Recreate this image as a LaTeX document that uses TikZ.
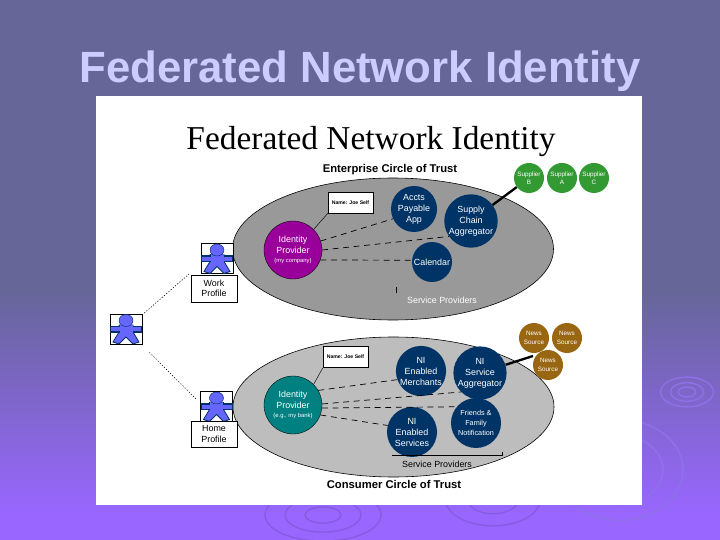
\documentclass[tikz,border=0pt]{standalone}
\usepackage{fontspec}
\setmainfont{Liberation Sans}
\newfontfamily\serifname{Liberation Serif}
\usepackage{tikz}
\usetikzlibrary{positioning}
\definecolor{slidetop}{RGB}{102,102,153}
\definecolor{slidebot}{RGB}{153,102,255}
\definecolor{ringup}{RGB}{142,112,232}
\definecolor{ringdn}{RGB}{135,92,225}
\definecolor{headcol}{RGB}{204,204,255}
\definecolor{navy}{RGB}{0,51,102}
\definecolor{plum}{RGB}{153,0,153}
\definecolor{teal2}{RGB}{0,128,128}
\definecolor{leaf}{RGB}{51,153,51}
\definecolor{ochre}{RGB}{153,102,17}
\definecolor{figcol}{RGB}{102,102,255}
\tikzset{
  svc/.style={circle,fill=navy,text=white,inner sep=0pt,minimum size=#1*0.03cm,align=center,font=\fontsize{7.6}{9.4}\selectfont},
  idp/.style={circle,fill=#1,draw=black,line width=0.3pt,text=white,inner sep=0pt,minimum size=1.74cm,align=center,font=\fontsize{7.6}{9.4}\selectfont},
  small/.style={circle,fill=#1,text=white,inner sep=0pt,minimum size=0.9cm,align=center,font=\fontsize{5.4}{7.2}\selectfont},
  namebox/.style={draw=black,fill=white,inner sep=0pt,minimum width=1.35cm,minimum height=0.64cm,font=\bfseries\fontsize{4.4}{5}\selectfont},
  profile/.style={draw=black,fill=white,inner sep=0pt,minimum width=1.38cm,minimum height=0.8cm,align=center,font=\fontsize{7.6}{9}\selectfont},
  personbox/.style={draw=black,fill=white,line width=0.3pt,inner sep=0pt,minimum width=0.95cm,minimum height=0.9cm},
  dashln/.style={black,line width=0.6pt,dash pattern=on 5pt off 4pt},
  dotln/.style={black,line width=0.5pt,dash pattern=on 1pt off 1.5pt},
  personfig/.pic={
    \draw[navy,line width=0.7pt,fill=figcol] (-7,-4) -- (-7,3) -- (-13,13) -- (-7,15) -- (0,8) -- (7,15) -- (13,13) -- (7,3) -- (7,-4) -- cycle;
    \fill[navy] (-16,-3) rectangle (16,4);
    \fill[figcol] (-15,-1.5) rectangle (15,2.5);
    \fill[figcol] (-6.5,-4) rectangle (6.5,5);
    \draw[navy,line width=0.4pt,fill=figcol] (0,-8.5) ellipse (7 and 6);
  }
}
\begin{document}
\begin{tikzpicture}[x=0.03cm,y=-0.03cm]
    \useasboundingbox (0,0) rectangle (720,540);
    \fill[slidetop] (0,0) rectangle (720,290.5);
    \shade[top color=slidetop,bottom color=slidebot] (0,290) rectangle (720,515);
    \fill[slidebot] (0,514.5) rectangle (720,540);

    % rings behind the panel
    \foreach \r in {8,15,24} \draw[ringup,line width=1.2pt] (687,392) ellipse (\r*1.1 and \r*0.62);
    \foreach \r in {43,63} \draw[ringup,line width=1.4pt] (620,470) ellipse (\r*1 and \r*0.8);
    \foreach \r in {18,38,58} \draw[ringdn,line width=1.2pt] (323,515) ellipse (\r*1 and \r*0.45);
    \foreach \r in {25,47} \draw[ringdn,line width=1.2pt] (493,500) ellipse (\r*1 and \r*0.55);

    % slide title and panel
    \node[text=headcol,font=\bfseries\fontsize{37.3}{42}\selectfont] (slidetitle) at (360,71.5) {Federated Network Identity};
    \fill[white] (96,96) rectangle (642,505);
    \node[font=\serifname\fontsize{28.5}{32}\selectfont] (paneltitle) at (371,142) {Federated Network Identity};

    % two circles of trust
    \draw[line width=0.5pt,fill=black!40] (393,249) ellipse (160.5 and 71);
    \draw[line width=0.5pt,fill=black!26] (393.5,407) ellipse (160.5 and 70);
    \node[font=\bfseries\fontsize{9.6}{11}\selectfont] (enttitle) at (390,170) {Enterprise Circle of Trust};
    \node[font=\bfseries\fontsize{9.6}{11}\selectfont] (contitle) at (394,484) {Consumer Circle of Trust};

    % enterprise side
    \node[idp=plum] (idwork) at (293,250) {Identity\\Provider\\[-2pt]{\fontsize{5}{6}\selectfont (my company)}};
    \node[namebox] (namework) at (350.5,202.5) {Name: Joe Self};
    \node[svc=46] (accts) at (414,209) {Accts\\Payable\\App};
    \node[svc=50] (supply) at (471,221) {Supply\\Chain\\Aggregator};
    \node[svc=40] (calendar) at (432,262) {Calendar};
    \node[text=white,font=\fontsize{7.6}{9}\selectfont] (spwork) at (442,300) {Service Providers};
    \node[small=leaf] (supb) at (529,178) {Supplier\\B};
    \node[small=leaf] (supa) at (562,178) {Supplier\\A};
    \node[small=leaf] (supc) at (594,178) {Supplier\\C};
    \path (396,287) coordinate (tick1) (396,293) coordinate (tick2);
    \draw[line width=0.6pt] (tick1) -- (tick2);
    \draw[line width=0.4pt] (idwork.45) -- (namework.south west);
    \draw[dashln] (idwork.18) -- (accts.205);
    \draw[dashln] (idwork.0) -- (supply.215);
    \draw[dashln] (idwork.-20) -- (calendar.175);
    \draw[line width=2pt] (supply) -- (supb);

    % consumer side
    \node[idp=teal2] (idhome) at (293,405) {Identity\\Provider\\[-2pt]{\fontsize{5}{6}\selectfont (e.g., my bank)}};
    \node[namebox] (namehome) at (345.5,357) {Name: Joe Self};
    \node[svc=50] (merch) at (421,371) {NI\\Enabled\\Merchants};
    \node[svc=50] (aggr) at (480,373) {NI\\Service\\Aggregator};
    \node[svc=50] (enabled) at (412,432) {NI\\Enabled\\Services};
    \node[svc=50,font=\fontsize{6.2}{8.6}\selectfont] (friends) at (476,423) {Friends \&\\Family\\Notification};
    \node[font=\fontsize{7.6}{9}\selectfont] (sphome) at (437,464) {Service Providers};
    \node[small=ochre] (newsa) at (534,338) {News\\Source};
    \node[small=ochre] (newsb) at (567,338) {News\\Source};
    \node[small=ochre] (newsc) at (548,365) {News\\Source};
    \path (392,455) coordinate (brk1) (502,455) coordinate (brk2) (502,452) coordinate (brk3)
      (533,356) coordinate (newsend);
    \draw[line width=0.5pt] (brk1) -- (brk2) -- (brk3);
    \draw[line width=0.4pt] (idhome.45) -- (namehome.south west);
    \draw[dashln] (idhome.30) -- (merch.200);
    \draw[dashln] (idhome.2) -- (aggr.225);
    \draw[dashln] (idhome.-6) -- (friends.140);
    \draw[dashln] (idhome.-20) -- (enabled.165);
    \draw[line width=2pt] (aggr) -- (newsend);

    % people and profiles
    \node[personbox] (mainperson) at (126,329) {};
    \node[personbox] (workperson) at (217,258.5) {};
    \node[personbox] (homeperson) at (216.5,406.5) {};
    \pic at (mainperson) {personfig};
    \pic at (workperson) {personfig};
    \pic at (homeperson) {personfig};
    \node[profile] (workprof) at (214,288.5) {Work\\Profile};
    \node[profile,minimum height=0.78cm] (homeprof) at (214,434) {Home\\Profile};
    \path (189,274) coordinate (dotwork) (197,400) coordinate (dothome);
    \draw[dotln] (mainperson) -- (dotwork);
    \draw[dotln,shorten <=10pt] (mainperson) -- (dothome);
\end{tikzpicture}
\end{document}
